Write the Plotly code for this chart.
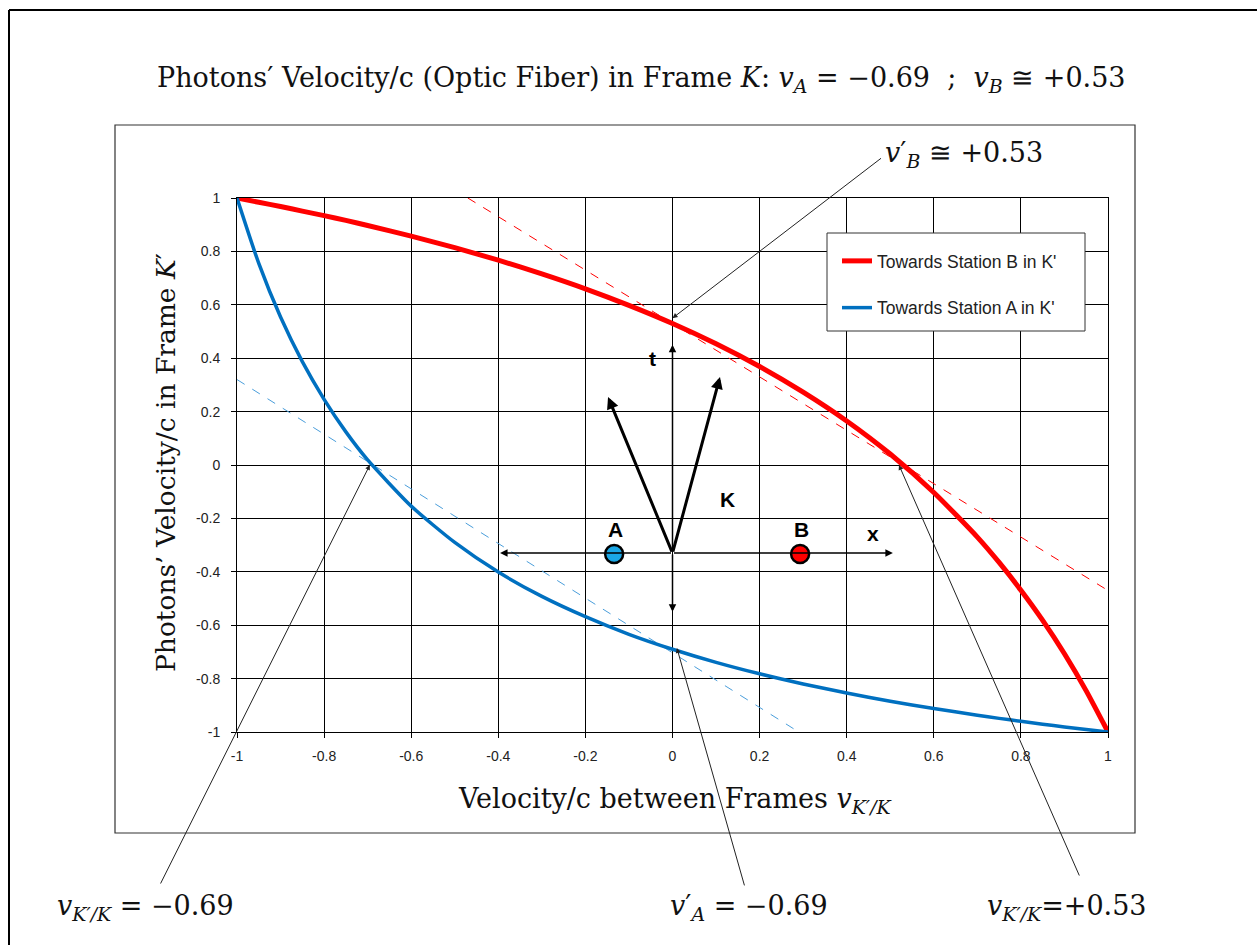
import plotly.graph_objects as go

# ---- data ----
v_frames = [-1.0, -0.95, -0.9, -0.85, -0.8, -0.75, -0.7, -0.6, -0.5, -0.4, -0.3, -0.2, -0.1,
            0.0, 0.1, 0.2, 0.3, 0.4, 0.5, 0.6, 0.7, 0.75, 0.8, 0.85, 0.9, 0.95, 1.0]
towards_B = [1.0, 0.984, 0.968, 0.951, 0.934, 0.916, 0.897, 0.857, 0.814, 0.767, 0.716, 0.66, 0.598,
             0.53, 0.454, 0.369, 0.273, 0.165, 0.041, -0.103, -0.27, -0.365, -0.469, -0.582, -0.707, -0.846, -1.0]
towards_A = [1.0, 0.755, 0.554, 0.387, 0.246, 0.124, 0.019, -0.154, -0.29, -0.401, -0.492, -0.568, -0.634,
             -0.69, -0.739, -0.782, -0.82, -0.854, -0.885, -0.912, -0.937, -0.949, -0.96, -0.971, -0.981, -0.991, -1.0]
tangent_B_x = [-0.47, 1.0]
tangent_B_y = [1.0, -0.47]
tangent_A_x = [-1.0, 0.29]
tangent_A_y = [0.32, -1.0]
tick_vals = [-1, -0.8, -0.6, -0.4, -0.2, 0, 0.2, 0.4, 0.6, 0.8, 1]
tick_text = ["-1", "-0.8", "-0.6", "-0.4", "-0.2", "0", "0.2", "0.4", "0.6", "0.8", "1"]

SERIF = "DejaVu Serif"
SANS = "Liberation Sans"
RED = "#FF0000"
BLUE = "#0070C0"

fig = go.Figure()
fig.add_trace(go.Scatter(x=tangent_B_x, y=tangent_B_y, mode="lines", showlegend=False,
                         line=dict(color=RED, width=1, dash="dash")))
fig.add_trace(go.Scatter(x=tangent_A_x, y=tangent_A_y, mode="lines", showlegend=False,
                         line=dict(color="#4A9EDB", width=1, dash="dash")))
fig.add_trace(go.Scatter(x=v_frames, y=towards_B, mode="lines", name="Towards Station B in K'",
                         legendgroup="b", line=dict(color=RED, width=5, shape="spline", smoothing=0.6)))
fig.add_trace(go.Scatter(x=v_frames, y=towards_A, mode="lines", name="Towards Station A in K'",
                         legendgroup="a", line=dict(color=BLUE, width=3.5, shape="spline", smoothing=0.6)))

# stations A and B of the inset diagram
fig.add_trace(go.Scatter(x=[-0.134], y=[-0.333], mode="markers", showlegend=False,
                         marker=dict(size=18, color="#1AA7E6", line=dict(color="black", width=2.5))))
fig.add_trace(go.Scatter(x=[0.293], y=[-0.333], mode="markers", showlegend=False,
                         marker=dict(size=18, color=RED, line=dict(color="black", width=2.5))))

W, H = 1257, 945
L, R, T, B = 237, 1108, 198, 732


def px(xp):
    return (xp - L) / (R - L)


def py(yp):
    return (B - yp) / (B - T)


ann = []
# inset Minkowski-like diagram
ox, oy = 0.0, -0.33
for hx, hy, w, sz in [(0.0, 0.45, 1.5, 1.0), (0.0, -0.55, 1.5, 1.0), (-0.396, -0.33, 1.5, 1.0),
                      (0.506, -0.33, 1.5, 1.0), (-0.148, 0.255, 3, 0.8), (0.109, 0.33, 3, 0.8)]:
    ann.append(dict(x=hx, y=hy, xref="x", yref="y", ax=ox, ay=oy, axref="x", ayref="y",
                    text="", showarrow=True, arrowhead=2, arrowsize=sz, arrowwidth=w, arrowcolor="black"))
for t, x, y in [("t", -0.045, 0.40), ("K", 0.127, -0.13), ("x", 0.46, -0.255), ("A", -0.132, -0.243),
                ("B", 0.297, -0.243)]:
    ann.append(dict(x=x, y=y, xref="x", yref="y", text=f"<b>{t}</b>", showarrow=False,
                    font=dict(family=SANS, size=21, color="black")))

# pointer arrows
for hx, hy, axp, ayp in [(0.0, 0.55, 210, -161), (-0.695, 0.0, -210, 420),
                         (0.01, -0.685, 68, 239), (0.52, 0.0, 181, 412)]:
    ann.append(dict(x=hx, y=hy, xref="x", yref="y", ax=axp, ay=ayp, text="", showarrow=True,
                    arrowhead=2, arrowsize=1, arrowwidth=1, arrowcolor="#222"))

mfont = dict(family=SERIF, size=27, color="#111")
for t, xl, yc in [("<i>v</i>′<sub><i>B</i></sub> ≅ +0.53", 883, 155),
                  ("<i>v</i><sub><i>K′/K</i></sub> = −0.69", 55, 907),
                  ("<i>v</i>′<sub><i>A</i></sub> = −0.69", 668, 907),
                  ("<i>v</i><sub><i>K′/K</i></sub>=+0.53", 985, 907)]:
    ann.append(dict(x=px(xl), y=py(yc), xref="paper", yref="paper", xanchor="left", yanchor="middle",
                    text=t, showarrow=False, font=mfont))

# titles
ann.append(dict(x=px(641), y=py(80), xref="paper", yref="paper", xanchor="center", yanchor="middle",
                text="Photons′ Velocity/c (Optic Fiber) in Frame <i>K</i>: <i>v</i><sub><i>A</i></sub> = −0.69  ;  <i>v</i><sub><i>B</i></sub> ≅ +0.53",
                showarrow=False, font=dict(family=SERIF, size=27, color="#111")))
ann.append(dict(x=px(675), y=py(800), xref="paper", yref="paper", xanchor="center", yanchor="middle",
                text="Velocity/c between Frames <i>v</i><sub><i>K′/K</i></sub>",
                showarrow=False, font=dict(family=SERIF, size=27, color="#111")))
ann.append(dict(x=px(165), y=py(463), xref="paper", yref="paper", xanchor="center", yanchor="middle",
                text="Photons’ Velocity/c in Frame <i>K</i>′", textangle=-90,
                showarrow=False, font=dict(family=SERIF, size=26.5, color="#111")))

shapes = [
    dict(type="rect", xref="paper", yref="paper", x0=px(115), x1=px(1135), y0=py(833), y1=py(125),
         line=dict(color="#333", width=1.2)),
    dict(type="line", xref="paper", yref="paper", x0=px(9), x1=px(1260), y0=py(10), y1=py(10),
         line=dict(color="black", width=2)),
    dict(type="line", xref="paper", yref="paper", x0=px(9), x1=px(9), y0=py(10), y1=py(950),
         line=dict(color="black", width=2)),
    # legend frame
    dict(type="rect", xref="paper", yref="paper", x0=px(827), x1=px(1085), y0=py(331), y1=py(233),
         fillcolor="white", layer="above", line=dict(color="#333", width=1)),
]

axis_common = dict(range=[-1, 1], tickvals=tick_vals, ticktext=tick_text, showgrid=True,
                   gridcolor="black", gridwidth=1, zeroline=False, showline=True, linecolor="black",
                   linewidth=1, mirror=True, ticks="outside", ticklen=5, tickcolor="black",
                   tickfont=dict(family=SANS, size=14, color="#222"))

fig.update_layout(
    width=W, height=H,
    margin=dict(l=L, r=W - R, t=T, b=H - B, pad=0),
    paper_bgcolor="white", plot_bgcolor="white",
    xaxis=dict(**axis_common, ticklabelstandoff=6),
    yaxis=dict(**axis_common, ticklabelstandoff=8),
    annotations=ann, shapes=shapes,
    legend=dict(x=px(837), y=py(243), xanchor="left", yanchor="top", bgcolor="rgba(0,0,0,0)",
                borderwidth=0, tracegroupgap=21,
                font=dict(family=SANS, size=17.5, color="#222")),
    showlegend=True,
)

fig.write_html("out.html")
